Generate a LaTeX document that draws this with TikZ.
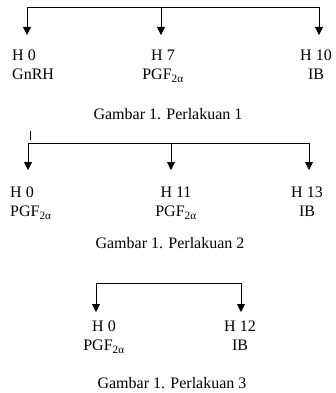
\documentclass[tikz,border=0pt]{standalone}
\usepackage{fontspec}
\setmainfont{Liberation Serif}
\usetikzlibrary{arrows.meta}

\begin{document}
\begin{tikzpicture}[x=1pt, y=-1pt,
  lbl/.style={inner sep=0pt, font=\fontsize{16}{19}\selectfont},
  captxt/.style={inner sep=0pt, anchor=base, font=\fontsize{16}{19}\selectfont},
  hline/.style={line width=0.8pt},
  arr/.style={line width=0.8pt, -{Triangle[length=8pt, width=8pt]}},
]
  \useasboundingbox (0,0) rectangle (335,393);

  % Perlakuan 1
  \coordinate (t1a) at (27,7);
  \coordinate (t1b) at (161,7);
  \coordinate (t1c) at (319,7);
  \node[lbl, anchor=north west, align=left] (h1a) at (12,50) {H 0\\GnRH};
  \node[lbl, anchor=north, align=center] (h1b) at (163,50) {H 7\\PGF\textsubscript{2α}};
  \node[lbl, anchor=north, align=center] (h1c) at (316,50) {H 10\\IB};
  \node[captxt] (cap1) at (168,119) {Gambar 1. Perlakuan 1};
  \draw[hline] (t1a) -- (t1c);
  \draw[arr] (t1a) -- ++(0,28) coordinate (e1a);
  \draw[arr] (t1b) -- ++(0,28) coordinate (e1b);
  \draw[arr] (t1c) -- ++(0,28) coordinate (e1c);

  % Perlakuan 2
  \coordinate (k2a) at (30,131);
  \coordinate (k2b) at (30,140);
  \coordinate (t2a) at (28,143);
  \coordinate (t2b) at (171,143);
  \coordinate (t2c) at (309,143);
  \node[lbl, anchor=north west, align=left] (h2a) at (10,187) {H 0\\PGF\textsubscript{2α}};
  \node[lbl, anchor=north, align=center] (h2b) at (176,187) {H 11\\PGF\textsubscript{2α}};
  \node[lbl, anchor=north, align=center] (h2c) at (307,187) {H 13\\IB};
  \node[captxt] (cap2) at (170,248) {Gambar 1. Perlakuan 2};
  \draw[hline] (k2a) -- (k2b);
  \draw[hline] (t2a) -- (t2c);
  \draw[arr] (t2a) -- ++(0,27) coordinate (e2a);
  \draw[arr] (t2b) -- ++(0,27) coordinate (e2b);
  \draw[arr] (t2c) -- ++(0,27) coordinate (e2c);

  % Perlakuan 3
  \coordinate (t3a) at (96,283);
  \coordinate (t3b) at (241,283);
  \node[lbl, anchor=north, align=center] (h3a) at (104,321) {H 0\\PGF\textsubscript{2α}};
  \node[lbl, anchor=north, align=center] (h3b) at (240,321) {H 12\\IB};
  \node[captxt] (cap3) at (172,388) {Gambar 1. Perlakuan 3};
  \draw[hline] (t3a) -- (t3b);
  \draw[arr] (t3a) -- ++(0,29) coordinate (e3a);
  \draw[arr] (t3b) -- ++(0,29) coordinate (e3b);
\end{tikzpicture}
\end{document}
